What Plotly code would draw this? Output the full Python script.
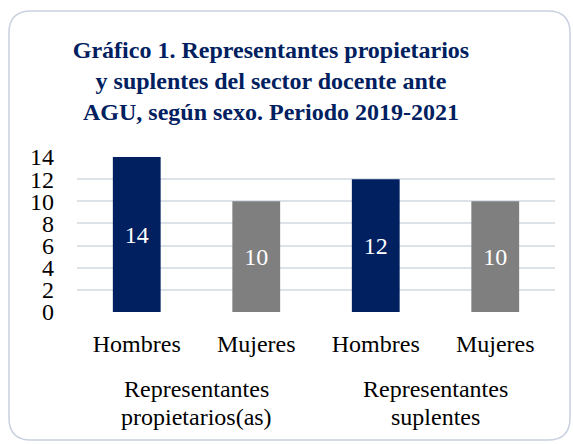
import plotly.graph_objects as go

group_names = ["Representantes<br>propietarios(as)", "Representantes<br>suplentes"]
group_members = [[0, 1], [2, 3]]
sexes = ["Hombres", "Mujeres", "Hombres", "Mujeres"]
values = [14, 10, 12, 10]
colors = ["#002060", "#7f7f7f", "#002060", "#7f7f7f"]
y_ticks = [0, 2, 4, 6, 8, 10, 12, 14]

W, H = 573, 444
L, R, T, B = 77, 18, 157, 132
FONT = "Liberation Serif, Times New Roman, serif"
xpos = list(range(len(values)))

fig = go.Figure(go.Bar(
    x=xpos, y=values, width=0.4,
    marker=dict(color=colors, line=dict(width=0)),
    text=[str(v) for v in values], textposition="inside",
    insidetextanchor="middle", textangle=0,
    textfont=dict(family=FONT, size=24, color="white"),
    hoverinfo="skip",
))

pw, ph = W - L - R, H - T - B
def px(x):
    return (x - L) / pw
def py(y):
    return (H - B - y) / ph

# rounded border
x0, x1, y0, y1, r = 9, 570, 11, 440, 22
path = (f"M {px(x0 + r)} {py(y0)} L {px(x1 - r)} {py(y0)} "
        f"Q {px(x1)} {py(y0)} {px(x1)} {py(y0 + r)} "
        f"L {px(x1)} {py(y1 - r)} Q {px(x1)} {py(y1)} {px(x1 - r)} {py(y1)} "
        f"L {px(x0 + r)} {py(y1)} Q {px(x0)} {py(y1)} {px(x0)} {py(y1 - r)} "
        f"L {px(x0)} {py(y0 + r)} Q {px(x0)} {py(y0)} {px(x0 + r)} {py(y0)} Z")

# group labels below the category labels
annotations = []
line_base = [398, 426]
for name, members in zip(group_names, group_members):
    cx = sum(members) / len(members)
    for i, line in enumerate(name.split("<br>")):
        annotations.append(dict(
            x=cx, xref="x", y=py(line_base[i]), yref="paper",
            text=line, showarrow=False, xanchor="center", yanchor="bottom",
            font=dict(family=FONT, size=24, color="black"), yshift=-6))

fig.update_layout(
    width=W, height=H,
    margin=dict(l=L, r=R, t=T, b=B, autoexpand=False),
    paper_bgcolor="white", plot_bgcolor="white",
    showlegend=False,
    font=dict(family=FONT, color="black"),
    title=dict(
        text="<b>Gráfico 1. Representantes propietarios<br>y suplentes del sector docente ante<br>AGU, según sexo. Periodo 2019-2021</b>",
        x=271 / W, xanchor="center", xref="container",
        y=1 - 58 / H, yanchor="top", yref="container",
        font=dict(family=FONT, size=24, color="#002060"),
    ),
    shapes=[dict(type="path", path=path, xref="paper", yref="paper",
                 line=dict(color="#c9d1e0", width=1.5), layer="below")],
    annotations=annotations,
)
fig.update_yaxes(range=[0, 14], tickvals=y_ticks, showgrid=True,
                 gridcolor="#dde1e8", gridwidth=1.5, zeroline=False,
                 showline=False, ticks="", ticklabelstandoff=22, automargin=False,
                 tickfont=dict(family=FONT, size=24, color="black"))
fig.update_xaxes(range=[-0.5, len(values) - 0.5], tickvals=xpos, ticktext=sexes,
                 showgrid=False, showline=False, ticks="", zeroline=False,
                 automargin=False, ticklabelstandoff=15,
                 tickfont=dict(family=FONT, size=24, color="black"))

fig.write_html("out.html", config={"displayModeBar": False},
               post_script="document.body.style.margin='0';")
